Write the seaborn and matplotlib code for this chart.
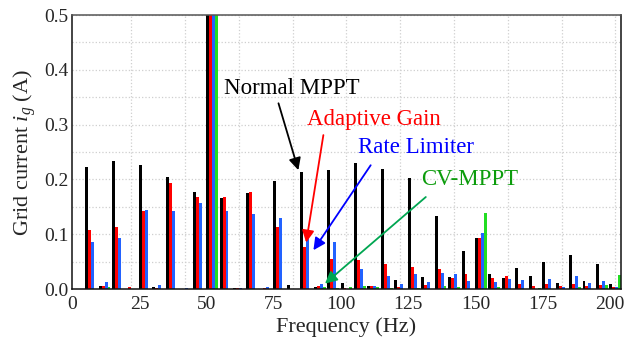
import numpy as np
import pandas as pd
import matplotlib
matplotlib.use('Agg')
import matplotlib.pyplot as plt
import seaborn as sns
from matplotlib import ticker

# harmonic bins (Hz) and grid current amplitude (A) for each controller
freqs = [5, 10, 15, 20, 25, 30, 35, 40, 45, 50,
         55, 60, 65, 70, 75, 80, 85, 90, 95, 100,
         105, 110, 115, 120, 125, 130, 135, 140, 145, 150,
         155, 160, 165, 170, 175, 180, 185, 190, 195, 200]

normal_mppt = [0.222, 0.006, 0.234, 0.000, 0.227, 0.004, 0.204, 0.001, 0.178, 1.000,
               0.166, 0.002, 0.175, 0.001, 0.198, 0.007, 0.214, 0.003, 0.217, 0.011,
               0.230, 0.006, 0.220, 0.016, 0.202, 0.022, 0.133, 0.022, 0.069, 0.094,
               0.027, 0.021, 0.038, 0.024, 0.049, 0.011, 0.063, 0.015, 0.045, 0.010]

adaptive_gain = [0.108, 0.005, 0.114, 0.003, 0.143, 0.002, 0.194, 0.000, 0.168, 1.000,
                 0.168, 0.002, 0.177, 0.002, 0.114, 0.001, 0.077, 0.005, 0.055, 0.002,
                 0.053, 0.006, 0.045, 0.004, 0.040, 0.008, 0.036, 0.021, 0.027, 0.094,
                 0.021, 0.024, 0.010, 0.006, 0.009, 0.006, 0.009, 0.005, 0.008, 0.004]

rate_limiter = [0.086, 0.013, 0.094, 0.000, 0.144, 0.007, 0.143, 0.002, 0.157, 1.000,
                0.143, 0.002, 0.137, 0.004, 0.130, 0.000, 0.106, 0.010, 0.086, 0.001,
                0.036, 0.006, 0.024, 0.009, 0.027, 0.013, 0.029, 0.027, 0.015, 0.103,
                0.013, 0.018, 0.016, 0.001, 0.018, 0.003, 0.024, 0.012, 0.015, 0.004]

cv_mppt = [0.001, 0.003, 0.000, 0.000, 0.000, 0.000, 0.000, 0.000, 0.000, 1.000,
           0.000, 0.000, 0.000, 0.000, 0.000, 0.000, 0.000, 0.003, 0.002, 0.003,
           0.005, 0.003, 0.002, 0.000, 0.002, 0.000, 0.006, 0.003, 0.000, 0.138,
           0.004, 0.000, 0.000, 0.002, 0.000, 0.000, 0.003, 0.000, 0.007, 0.025]

methods = ['Normal MPPT', 'Adaptive Gain', 'Rate Limiter', 'CV-MPPT']
bar_colors = ['#000000', '#ff0000', '#2262ff', '#22dd22']
text_colors = ['#000000', '#ff0000', '#0000ff', '#0c9c0c']
arrow_colors = ['#000000', '#ff0000', '#0000ff', '#00a651']


def build_frame():
    parts = []
    for name, vals in zip(methods, [normal_mppt, adaptive_gain, rate_limiter, cv_mppt]):
        parts.append(pd.DataFrame({'freq': freqs, 'current': vals, 'method': name}))
    df = pd.concat(parts, ignore_index=True)
    df['pos'] = df['freq'] + 2.0  # each group sits just right of its harmonic
    return df


def plot_spectrum(df):
    sns.set_theme(style='white')
    plt.rcParams['font.family'] = ['Liberation Serif', 'DejaVu Serif']
    plt.rcParams['mathtext.fontset'] = 'custom'
    plt.rcParams['mathtext.rm'] = 'Liberation Serif'
    plt.rcParams['mathtext.it'] = 'Liberation Serif:italic'

    fig = plt.figure(figsize=(6.32, 3.5), dpi=100)
    ax = fig.add_axes([0.1144, 0.174, 0.8677, 0.783])

    sns.barplot(data=df, x='pos', y='current', hue='method', hue_order=methods,
                palette=bar_colors, native_scale=True, width=0.88,
                errorbar=None, saturation=1, linewidth=0, legend=False, ax=ax)

    ax.set_xlim(0, 204)
    ax.set_ylim(0, 0.5)
    ax.set_xticks(range(0, 201, 25))
    ax.set_yticks(np.arange(0, 0.51, 0.1))
    ax.yaxis.set_major_formatter(ticker.StrMethodFormatter('{x:.1f}'))
    ax.yaxis.set_minor_locator(ticker.MultipleLocator(0.05))
    ax.set_xticks([22 + 20 * k for k in range(10)], minor=True)
    ax.tick_params(which='both', length=0, labelsize=14)
    ax.tick_params(axis='x', pad=5)
    ax.tick_params(axis='y', pad=3)

    ax.grid(False)
    ax.grid(which='minor', axis='x', color='#cfcfcf', linestyle=':', linewidth=0.9)
    ax.grid(which='both', axis='y', color='#cfcfcf', linestyle=':', linewidth=0.9)
    ax.set_axisbelow(True)

    for side in ['left', 'right', 'bottom']:
        ax.spines[side].set_color('#111111')
        ax.spines[side].set_linewidth(1.1)
    ax.spines['top'].set_color('#555555')
    ax.spines['top'].set_linewidth(1.1)

    ax.set_xlabel('Frequency (Hz)', fontsize=16, labelpad=3)
    ax.set_ylabel('Grid current $i_g$ (A)', fontsize=16, labelpad=4)

    # labels with arrows pointing at the 85-95 Hz bars
    labels = [(81.6, 0.366), (112.3, 0.310), (127.7, 0.259), (148.0, 0.200)]
    arrow_from = [(76.7, 0.339), (93.4, 0.281), (111.0, 0.226), (131.5, 0.168)]
    arrow_to = [(84.1, 0.217), (87.0, 0.085), (89.7, 0.071), (94.0, 0.010)]
    for i, name in enumerate(methods):
        ax.text(labels[i][0], labels[i][1], name, color=text_colors[i], fontsize=16.5,
                ha='center', va='center')
        ax.annotate('', xy=arrow_to[i], xytext=arrow_from[i],
                    arrowprops=dict(arrowstyle='-|>', color=arrow_colors[i], lw=1.3,
                                    mutation_scale=18, shrinkA=0, shrinkB=0))

    fig.savefig('out.png', dpi=100)


if __name__ == '__main__':
    df = build_frame()
    plot_spectrum(df)
